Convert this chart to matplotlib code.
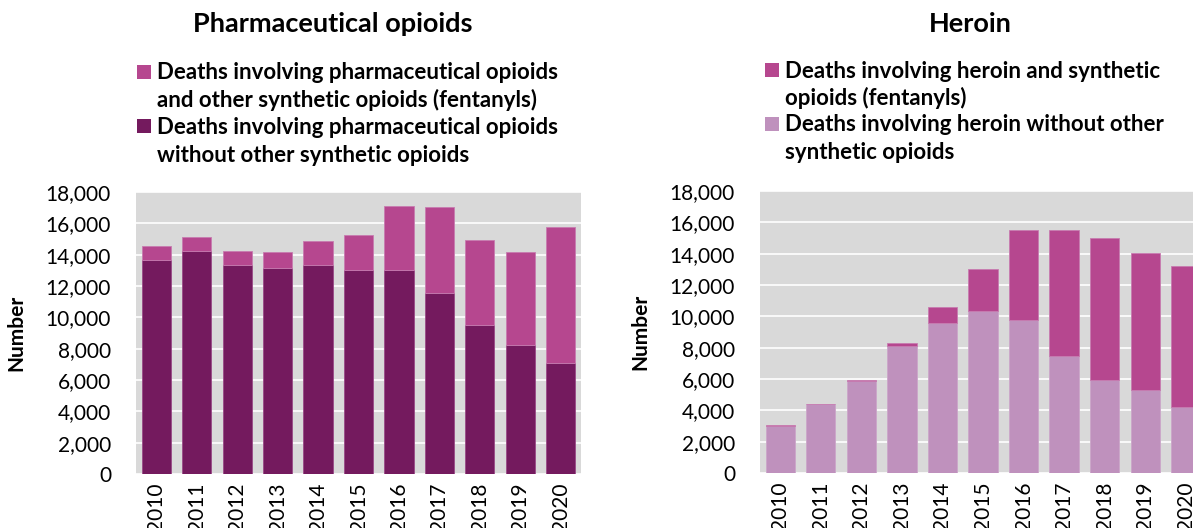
import numpy as np
import matplotlib.pyplot as plt
from matplotlib.patches import Rectangle
from matplotlib.ticker import FuncFormatter

years = ["2010", "2011", "2012", "2013", "2014", "2015", "2016", "2017", "2018", "2019", "2020"]

# pharmaceutical opioids
pharma_without = [13630, 14250, 13360, 13120, 13330, 13000, 13000, 11570, 9540, 8260, 7110]
pharma_with = [940, 900, 890, 1020, 1520, 2270, 4100, 5450, 5410, 5880, 8630]

# heroin
heroin_without = [2980, 4390, 5870, 8090, 9600, 10340, 9750, 7450, 5960, 5320, 4190]
heroin_with = [60, 40, 60, 190, 1020, 2700, 5760, 8080, 9060, 8750, 9000]

DARK = "#741A5E"
PINK = "#B6478F"
LIGHT = "#BF91BD"
BG = "#D9D9D9"

W, H = 1193, 528
FONT = "Lato"

plt.rcParams["font.family"] = [FONT, "DejaVu Sans"]

fig = plt.figure(figsize=(W / 100, H / 100), dpi=100)


def fx(px):
    return px / W


def fy(py):
    return 1 - py / H


def setup_axes(ax):
    ax.set_facecolor(BG)
    for s in ax.spines.values():
        s.set_visible(False)
    ax.set_ylim(0, 18000)
    ax.set_yticks(np.arange(0, 18001, 2000))
    ax.yaxis.set_major_formatter(FuncFormatter(lambda v, p: f"{int(v):,}"))
    ax.set_xlim(-0.5, 10.5)
    ax.set_xticks(np.arange(len(years)))
    ax.set_xticklabels(years, rotation=90, va="top")
    ax.tick_params(axis="y", length=0, pad=18, labelsize=15)
    ax.tick_params(axis="x", length=0, pad=6, labelsize=15)
    ax.grid(axis="y", color="white", lw=1.2)
    ax.set_axisbelow(True)
    ax.set_ylabel("Number", fontsize=15, fontweight="bold", labelpad=14)


x = np.arange(len(years))

ax1 = fig.add_axes([fx(136), fy(474), fx(445), fy(192) - fy(474)])
setup_axes(ax1)
ax1.bar(x, pharma_without, width=0.72, color=DARK, edgecolor="#9A4A87", lw=0.6)
ax1.bar(x, pharma_with, bottom=pharma_without, width=0.72, color=PINK, edgecolor="#C77BB0", lw=0.6)

ax2 = fig.add_axes([fx(760), fy(473), fx(446), fy(191) - fy(473)])
setup_axes(ax2)
ax2.bar(x, heroin_without, width=0.72, color=LIGHT, edgecolor="#CBA6C9", lw=0.6)
ax2.bar(x, heroin_with, bottom=heroin_without, width=0.72, color=PINK, edgecolor="#C77BB0", lw=0.6)

# titles
fig.text(fx(333), fy(32), "Pharmaceutical opioids", ha="center", va="baseline",
         fontsize=19.5, fontweight="bold")
fig.text(fx(970), fy(32), "Heroin", ha="center", va="baseline",
         fontsize=19.5, fontweight="bold")


def legend(x0, sq_top, tx, baselines, lines, colors):
    for c, top in zip(colors, sq_top):
        fig.add_artist(Rectangle((fx(x0), fy(top + 14)), fx(14), fy(top) - fy(top + 14),
                                 transform=fig.transFigure, color=c, lw=0))
    for b, t in zip(baselines, lines):
        fig.text(fx(tx), fy(b), t, ha="left", va="baseline", fontsize=16, fontweight="bold")


legend(137, [65, 119], 157, [79, 107, 134, 162],
       ["Deaths involving pharmaceutical opioids",
        "and other synthetic opioids (fentanyls)",
        "Deaths involving pharmaceutical opioids",
        "without other synthetic opioids"],
       [PINK, DARK])

legend(765, [63, 117], 785, [78, 105, 131, 159],
       ["Deaths involving heroin and synthetic",
        "opioids (fentanyls)",
        "Deaths involving heroin without other",
        "synthetic opioids"],
       [PINK, LIGHT])

fig.savefig("out.png", dpi=100)
